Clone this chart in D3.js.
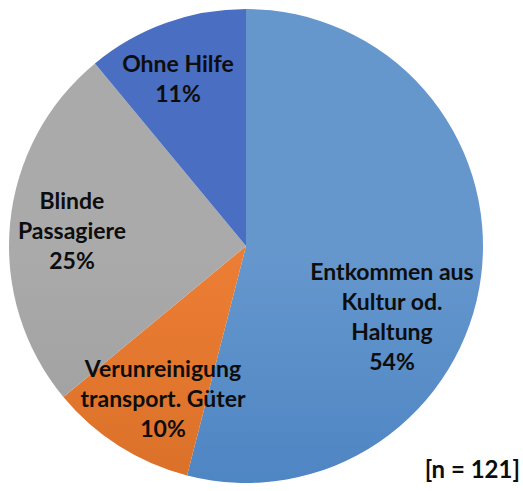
<!DOCTYPE html>
<html>
<head>
<meta charset="utf-8">
<script src="https://cdn.jsdelivr.net/npm/d3@7"></script>
<style>
  html, body { margin: 0; padding: 0; background: #fff; }
  svg { display: block; }
  text { font-family: Lato, "Open Sans", sans-serif; font-weight: bold; fill: #0d0d0d; }
</style>
</head>
<body>
<svg id="chart" width="523" height="491"></svg>
<script>
// Data (clockwise from 12 o'clock)
const categories = ["Entkommen aus Kultur od. Haltung", "Verunreinigung transport. Güter", "Blinde Passagiere", "Ohne Hilfe"];
const values = [54, 10, 25, 11];
const labelLines = [
  ["Entkommen aus", "Kultur od.", "Haltung", "54%"],
  ["Verunreinigung", "transport. Güter", "10%"],
  ["Blinde", "Passagiere", "25%"],
  ["Ohne Hilfe", "11%"]
];
const colorsTop = ["#6597cd", "#ec7d34", "#aaaaaa", "#4a6ec2"];
const colorsBottom = ["#3572b8", "#c8631c", "#919191", "#2a50a6"];
const note = "[n = 121]";

const svg = d3.select("#chart");
const cx = 246, cy = 246, r = 237;

const defs = svg.append("defs");
categories.forEach((c, i) => {
  const g = defs.append("linearGradient")
    .attr("id", "grad" + i)
    .attr("gradientUnits", "userSpaceOnUse")
    .attr("x1", 0).attr("y1", cy - r).attr("x2", 0).attr("y2", cy + r);
  g.append("stop").attr("offset", "0%").attr("stop-color", colorsTop[i]);
  g.append("stop").attr("offset", "100%").attr("stop-color", colorsBottom[i]);
});

const pie = d3.pie().sort(null).value(d => d.value);
const data = categories.map((c, i) => ({ name: c, value: values[i], i }));
const arcs = pie(data);
const arc = d3.arc().innerRadius(0).outerRadius(r);

const g = svg.append("g").attr("transform", `translate(${cx},${cy})`);
g.selectAll("path").data(arcs).enter().append("path")
  .attr("d", arc)
  .attr("fill", d => `url(#grad${d.data.i})`)
  .attr("stroke", "none");

// label anchor points (absolute) chosen per slice
const labelPos = [
  { x: 392, y: 280 },
  { x: 163, y: 377 },
  { x: 72, y: 209 },
  { x: 178, y: 72 }
];
const lineH = 30;
const fontSize = 23;
labelLines.forEach((lines, i) => {
  const t = svg.append("text")
    .attr("text-anchor", "middle")
    .attr("font-size", fontSize);
  lines.forEach((ln, j) => {
    t.append("tspan").attr("x", labelPos[i].x).attr("y", labelPos[i].y + j * lineH).text(ln);
  });
});

svg.append("text")
  .attr("x", 520).attr("y", 478)
  .attr("text-anchor", "end")
  .attr("font-size", 24)
  .text(note);
</script>
</body>
</html>
